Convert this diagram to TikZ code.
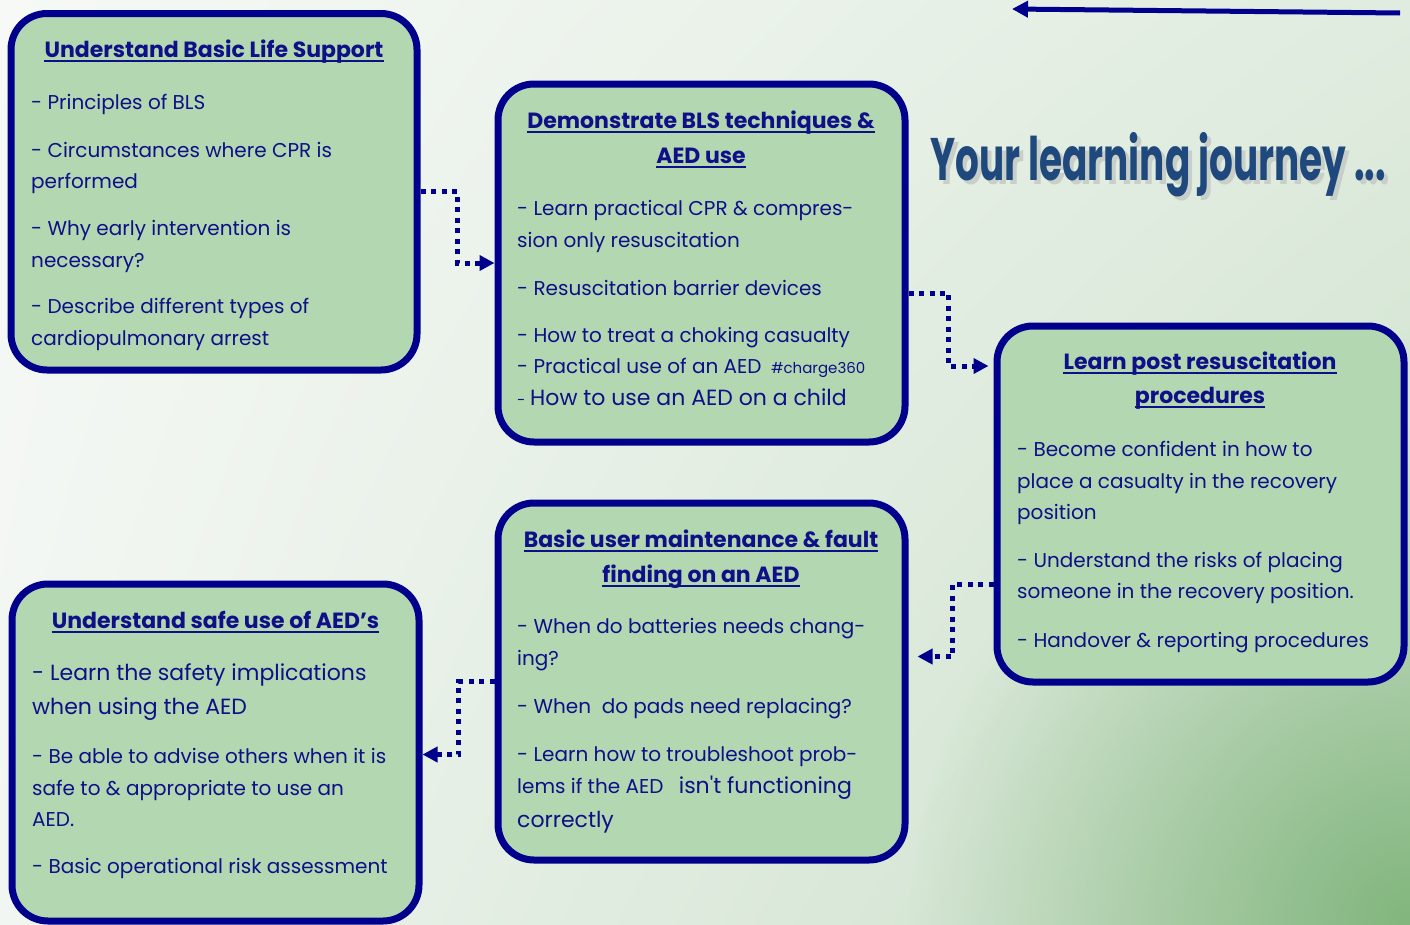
\documentclass[tikz,border=0pt]{standalone}
\usepackage{fontspec}
\setmainfont{Poppins}
\usepackage{graphicx}
\usetikzlibrary{arrows.meta,calc,fadings,shadings}
\definecolor{navy}{RGB}{0,0,140}
\definecolor{ink}{RGB}{15,15,135}
\definecolor{boxfill}{RGB}{178,215,177}
\definecolor{jtitle}{RGB}{31,73,125}
\definecolor{jshadow}{RGB}{200,206,200}
\definecolor{bgTL}{RGB}{246,249,246}
\definecolor{bgTR}{RGB}{224,236,223}
\definecolor{bgBL}{RGB}{242,246,242}
\definecolor{bgBR}{RGB}{200,222,198}
\definecolor{cornergreen}{RGB}{130,182,126}
\tikzfading[name=cornerfade, inner color=transparent!0, outer color=transparent!100]
\newcommand{\journeytext}{\scalebox{0.623}[1]{Your learning journey ...}}
\begin{document}
\begin{tikzpicture}[x=1pt,y=-1pt,
 box/.style={draw=navy, fill=boxfill, line width=7pt, rounded corners=36pt, inner sep=0pt},
 txt/.style={anchor=base west, inner sep=0pt, text=ink, font=\fontsize{20}{24}\selectfont},
 big/.style={anchor=base west, inner sep=0pt, text=ink, font=\fontsize{22}{28}\selectfont},
 small/.style={anchor=base west, inner sep=0pt, text=ink, font=\fontsize{15}{17}\selectfont},
 ttl/.style={anchor=base, inner sep=0pt, text=ink, font=\fontsize{22}{26}\selectfont\bfseries},
 ul/.style={draw=ink, line width=2pt},
 flow/.style={draw=navy, line width=5pt, dash pattern=on 5pt off 5.5pt, -{Triangle[length=15pt,width=15pt]}},
 jour/.style={anchor=base west, inner sep=0pt, font=\fontsize{60}{64}\selectfont\bfseries},
]
\useasboundingbox (0,0) rectangle (1410,924);
% background
\shade[upper left=bgTL, upper right=bgTR, lower left=bgBL, lower right=bgBR] (0,0) rectangle (1410,924);
\fill[cornergreen, path fading=cornerfade] (1410,924) circle (500);

% boxes
\node[box, minimum width=406pt, minimum height=356.5pt] (b1) at (214,191.75) {};
\node[box, minimum width=407pt, minimum height=358pt] (b2) at (701.5,263) {};
\node[box, minimum width=407pt, minimum height=356pt] (b3) at (1200.5,504) {};
\node[box, minimum width=407pt, minimum height=357pt] (b4) at (701.5,681.5) {};
\node[box, minimum width=407pt, minimum height=337pt] (b5) at (215.5,752.5) {};

% box 1
\node[ttl] (b1t) at (214,57) {Understand Basic Life Support};
\draw[ul] ([yshift=-4pt]b1t.base west) -- ([yshift=-4pt]b1t.base east);
\node[txt] (b1a) at (31,109) {- Principles of BLS};
\node[txt] (b1b) at (31,157) {- Circumstances where CPR is};
\node[txt] (b1c) at (31,188) {performed};
\node[txt] (b1d) at (31,235) {- Why early intervention is};
\node[txt] (b1e) at (31,267) {necessary?};
\node[txt] (b1f) at (31,313) {- Describe different types of};
\node[txt] (b1g) at (31,345) {cardiopulmonary arrest};

% box 2
\node[ttl] (b2t) at (701,128) {Demonstrate BLS techniques \&};
\draw[ul] ([yshift=-4pt]b2t.base west) -- ([yshift=-4pt]b2t.base east);
\node[ttl] (b2u) at (701,163) {AED use};
\draw[ul] ([yshift=-4pt]b2u.base west) -- ([yshift=-4pt]b2u.base east);
\node[txt] (b2a) at (517,215) {- Learn practical CPR \& compres-};
\node[txt] (b2b) at (517,247) {sion only resuscitation};
\node[txt] (b2c) at (517,295) {- Resuscitation barrier devices};
\node[txt] (b2d) at (517,342) {- How to treat a choking casualty};
\node[txt] (b2e) at (517,373) {- Practical use of an AED};
\node[small] (b2f) at ([xshift=9pt]b2e.base east) {\#charge360};
\node[small] (b2g) at (517,405) {-};
\node[big] (b2h) at (530,405) {How to use an AED on a child};

% box 3
\node[ttl] (b3t) at (1200,369) {Learn post resuscitation};
\draw[ul] ([yshift=-4pt]b3t.base west) -- ([yshift=-4pt]b3t.base east);
\node[ttl] (b3u) at (1200,403) {procedures};
\draw[ul] ([yshift=-4pt]b3u.base west) -- ([yshift=-4pt]b3u.base east);
\node[txt] (b3a) at (1017,456) {- Become confident in how to};
\node[txt] (b3b) at (1017,488) {place a casualty in the recovery};
\node[txt] (b3c) at (1017,519) {position};
\node[txt] (b3d) at (1017,567) {- Understand the risks of placing};
\node[txt] (b3e) at (1017,598) {someone in the recovery position.};
\node[txt] (b3f) at (1017,647) {- Handover \& reporting procedures};

% box 4
\node[ttl] (b4t) at (701,547) {Basic user maintenance \& fault};
\draw[ul] ([yshift=-4pt]b4t.base west) -- ([yshift=-4pt]b4t.base east);
\node[ttl] (b4u) at (701,582) {finding on an AED};
\draw[ul] ([yshift=-4pt]b4u.base west) -- ([yshift=-4pt]b4u.base east);
\node[txt] (b4a) at (517,633) {- When do batteries needs chang-};
\node[txt] (b4b) at (517,665) {ing?};
\node[txt] (b4c) at (517,713) {- When\ \ do pads need replacing?};
\node[txt] (b4d) at (517,761) {- Learn how to troubleshoot prob-};
\node[txt] (b4e) at (517,793) {lems if the AED};
\node[big] (b4f) at ([xshift=15pt]b4e.base east) {isn\textquotesingle t functioning};
\node[big] (b4g) at (517,827) {correctly};

% box 5
\node[ttl] (b5t) at (215.5,628) {Understand safe use of AED’s};
\draw[ul] ([yshift=-4pt]b5t.base west) -- ([yshift=-4pt]b5t.base east);
\node[big] (b5a) at (32,680) {- Learn the safety implications};
\node[big] (b5b) at (32,714) {when using the AED};
\node[txt] (b5c) at (32,763) {- Be able to advise others when it is};
\node[txt] (b5d) at (32,795) {safe to \& appropriate to use an};
\node[txt] (b5e) at (32,826) {AED.};
\node[txt] (b5f) at (32,873) {- Basic operational risk assessment};

% connectors
\draw[flow] (b1.east) -- ++(37,0) |- (b2.west);
\draw[flow, shorten >=5pt] ($(b2.east)+(0,30)$) -- ++(40,0) |- ($(b3.west)+(0,-138)$);
\draw[flow] ($(b3.west)+(0,80)$) -- ++(-41,0) |- ($(b4.east)+(9,-25)$);
\draw[flow] (b4.west) -- ++(-36,0) |- ($(b5.east)+(0,2)$);

% title with shadow (single node)
\node[jour] (jt) at (930,180) {\makebox[0pt][l]{\hspace{4pt}\raisebox{-4pt}{\color{jshadow}\journeytext}}\color{jtitle}\journeytext};

% top arrow
\coordinate (arrS) at (1400,13);
\coordinate (arrE) at (1012,9);
\draw[navy, line width=5pt, -{Triangle[length=16pt,width=16pt]}] (arrS) -- (arrE);
\end{tikzpicture}
\end{document}
